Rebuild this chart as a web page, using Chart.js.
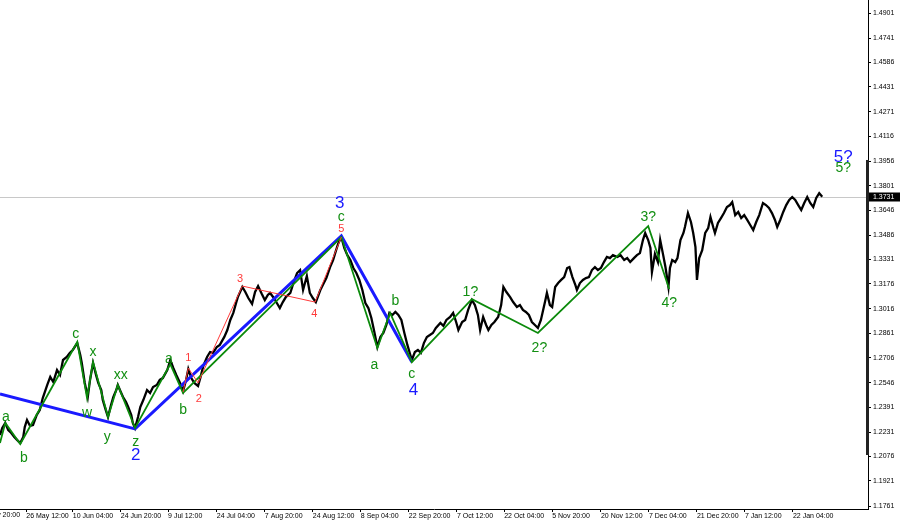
<!DOCTYPE html>
<html>
<head>
<meta charset="utf-8">
<title>GBP/USD H4 wave count</title>
<script src="https://cdn.jsdelivr.net/npm/chart.js@4.4.1/dist/chart.umd.min.js"></script>
<style>
  html, body { margin: 0; padding: 0; background: #fff; }
  #wrap { width: 900px; height: 525px; }
</style>
</head>
<body>
<div id="wrap"><canvas id="chart" width="900" height="525"></canvas></div>
<script>
// price path, one sample every ~4 H4 bars
const priceBars = [
  0, 3, 7, 11, 15, 19, 23, 27, 31, 33,
  36, 40, 44, 49, 53, 57, 63, 67, 71, 76,
  80, 84, 89, 93, 97, 103, 107, 109, 113, 117,
  120, 124, 128, 131, 135, 137, 141, 144, 148, 151,
  155, 157, 161, 164, 168, 171, 175, 177, 180, 184,
  187, 191, 196, 200, 204, 209, 213, 217, 223, 227,
  231, 235, 240, 244, 248, 251, 255, 259, 264, 267,
  271, 276, 280, 284, 289, 293, 299, 303, 307, 311,
  315, 317, 323, 327, 331, 336, 340, 344, 349, 353,
  357, 360, 365, 369, 373, 377, 381, 387, 391, 396,
  400, 404, 409, 413, 417, 421, 427, 431, 435, 440,
  444, 448, 451, 455, 459, 463, 467, 471, 475, 479,
  483, 487, 491, 495, 499, 503, 507, 511, 515, 519,
  523, 527, 531, 535, 539, 543, 547, 549, 553, 557,
  561, 565, 569, 573, 577, 581, 587, 591, 595, 600,
  604, 608, 611, 616, 620, 624, 629, 633, 637, 640,
  644, 648, 651, 655, 659, 664, 668, 671, 675, 680,
  684, 689, 693, 697, 701, 705, 709, 713, 717, 721,
  724, 727, 729, 733, 736, 740, 744, 748, 752, 756,
  759, 763, 767, 769, 773, 777, 781, 785, 789, 793,
  797, 801, 805, 809, 813, 817, 823, 827, 832, 836,
  840, 845, 849, 853, 857, 860, 864, 867, 869, 873,
  877, 880, 884, 887, 891, 893, 896, 900, 903, 907,
  911, 913, 917, 921, 924, 927, 929, 932, 936, 940,
  944, 947, 951, 953, 957, 961, 965, 969, 973, 976,
  980, 984, 988, 992, 996, 1000, 1004, 1008, 1012, 1017,
  1021, 1025, 1029, 1033, 1036, 1040, 1044, 1048, 1052, 1056,
  1060, 1064, 1068, 1072, 1076, 1080, 1084, 1088, 1092, 1096
];
const priceValues = [
  1.2213, 1.2258, 1.2290, 1.2245, 1.2226, 1.2201, 1.2181, 1.2162, 1.2201, 1.2264,
  1.2309, 1.2271, 1.2277, 1.2341, 1.2372, 1.2449, 1.2532, 1.2583, 1.2551, 1.2627,
  1.2596, 1.2691, 1.2710, 1.2736, 1.2755, 1.2799, 1.2723, 1.2672, 1.2545, 1.2455,
  1.2564, 1.2672, 1.2596, 1.2545, 1.2500, 1.2436, 1.2372, 1.2328, 1.2404, 1.2455,
  1.2500, 1.2532, 1.2487, 1.2455, 1.2423, 1.2391, 1.2341, 1.2290, 1.2258, 1.2328,
  1.2391, 1.2436, 1.2500, 1.2481, 1.2519, 1.2532, 1.2564, 1.2576, 1.2627, 1.2691,
  1.2640, 1.2596, 1.2545, 1.2493, 1.2564, 1.2634, 1.2576, 1.2545, 1.2525, 1.2576,
  1.2653, 1.2710, 1.2742, 1.2736, 1.2774, 1.2787, 1.2838, 1.2882, 1.2946, 1.2991,
  1.3060, 1.3092, 1.3156, 1.3124, 1.3086, 1.3048, 1.3124, 1.3162, 1.3111, 1.3073,
  1.3105, 1.3118, 1.3086, 1.3054, 1.3022, 1.3060, 1.3092, 1.3118, 1.3181, 1.3245,
  1.3264, 1.3137, 1.3226, 1.3118, 1.3086, 1.3060, 1.3137, 1.3175, 1.3213, 1.3283,
  1.3328, 1.3391, 1.3435, 1.3474, 1.3404, 1.3359, 1.3328, 1.3277, 1.3245, 1.3201,
  1.3137, 1.3054, 1.3022, 1.2959, 1.2870, 1.2774, 1.2838, 1.2863, 1.2914, 1.2991,
  1.2978, 1.2997, 1.2978, 1.2946, 1.2863, 1.2787, 1.2723, 1.2691, 1.2742, 1.2755,
  1.2736, 1.2799, 1.2838, 1.2850, 1.2863, 1.2895, 1.2927, 1.2908, 1.2946, 1.2965,
  1.2991, 1.2933, 1.2882, 1.2933, 1.2946, 1.3010, 1.3073, 1.3041, 1.2978, 1.2882,
  1.2965, 1.2914, 1.2882, 1.2914, 1.2933, 1.2965, 1.3041, 1.3156, 1.3124, 1.3092,
  1.3060, 1.3029, 1.3041, 1.3010, 1.2997, 1.2978, 1.2933, 1.2914, 1.2895, 1.2946,
  1.3010, 1.3073, 1.3118, 1.3041, 1.3029, 1.3156, 1.3181, 1.3201, 1.3219, 1.3277,
  1.3283, 1.3219, 1.3168, 1.3137, 1.3181, 1.3201, 1.3213, 1.3219, 1.3264, 1.3283,
  1.3264, 1.3277, 1.3315, 1.3347, 1.3340, 1.3359, 1.3347, 1.3359, 1.3328, 1.3340,
  1.3315, 1.3340, 1.3359, 1.3372, 1.3455, 1.3500, 1.3455, 1.3404, 1.3251, 1.3366,
  1.3315, 1.3455, 1.3359, 1.3283, 1.3156, 1.3277, 1.3328, 1.3315, 1.3340, 1.3455,
  1.3500, 1.3538, 1.3627, 1.3570, 1.3500, 1.3410, 1.3201, 1.3340, 1.3391, 1.3500,
  1.3532, 1.3602, 1.3532, 1.3500, 1.3564, 1.3595, 1.3627, 1.3665, 1.3678, 1.3697,
  1.3614, 1.3634, 1.3595, 1.3614, 1.3583, 1.3551, 1.3519, 1.3570, 1.3614, 1.3691,
  1.3678, 1.3659, 1.3627, 1.3583, 1.3538, 1.3583, 1.3634, 1.3678, 1.3710, 1.3729,
  1.3710, 1.3678, 1.3646, 1.3691, 1.3729, 1.3691, 1.3665, 1.3723, 1.3754, 1.3731
];
const lastPrice = 1.3731;

// wave lines
const blueBars = [0, 180, 455, 549];
const bluePrices = [1.2474, 1.2252, 1.3481, 1.2678];
const greenBars = [0, 7, 27, 103, 116, 124, 144, 157, 180, 227, 244, 455, 503, 520, 549, 629, 717, 864, 892];
const greenPrices = [1.2162, 1.2290, 1.2156, 1.2806, 1.2449, 1.2678, 1.2328, 1.2532, 1.2258, 1.2665,
  1.2481, 1.3474, 1.2767, 1.2991, 1.2678, 1.3079, 1.2863, 1.3544, 1.3143];
const redBars = [244, 251, 264, 323, 420, 455];
const redPrices = [1.2487, 1.2640, 1.2545, 1.3162, 1.3060, 1.3474];

// wave labels
const blueLabels = ['2', '3', '4', '5?'];
const blueLabelBars = [181, 453, 551, 1124];
const blueLabelPrices = [1.2086, 1.3691, 1.2500, 1.3984];
const greenLabels = ['a', 'b', 'c', 'w', 'x', 'y', 'xx', 'z', 'a', 'b', 'c', 'a', 'b', 'c', '1?', '2?', '3?', '4?', '5?'];
const greenLabelBars = [8, 32, 101, 116, 124, 143, 161, 181, 225, 244, 455, 499, 527, 549, 627, 719, 864, 892, 1124];
const greenLabelPrices = [1.2328, 1.2067, 1.2857, 1.2353, 1.2742, 1.2201, 1.2596, 1.2169, 1.2697, 1.2372,
  1.3602, 1.2659, 1.3067, 1.2602, 1.3124, 1.2767, 1.3602, 1.3054, 1.3914];
const redLabels = ['1', '2', '3', '4', '5'];
const redLabelBars = [251, 265, 320, 419, 455];
const redLabelPrices = [1.2704, 1.2443, 1.3207, 1.2984, 1.3525];

// axes
const yTickValues = [1.4901, 1.4741, 1.4586, 1.4431, 1.4271, 1.4116, 1.3956, 1.3801, 1.3646, 1.3486,
  1.3331, 1.3176, 1.3016, 1.2861, 1.2706, 1.2546, 1.2391, 1.2231, 1.2076, 1.1921, 1.1761];
const xTickBars = [35, 97, 161, 224, 289, 353, 417, 481, 545, 609, 672, 736, 801, 865, 929, 993, 1057];
const xTickLabels = ['26 May 12:00', '10 Jun 04:00', '24 Jun 20:00', '9 Jul 12:00', '24 Jul 04:00',
  '7 Aug 20:00', '24 Aug 12:00', '8 Sep 04:00', '22 Sep 20:00', '7 Oct 12:00', '22 Oct 04:00',
  '5 Nov 20:00', '20 Nov 12:00', '7 Dec 04:00', '21 Dec 20:00', '7 Jan 12:00', '22 Jan 04:00'];
const cutLabelBar = -29;
const cutLabel = '11 May 20:00';
const scrollTop = 1.3965;
const scrollBottom = 1.2086;

const FONT = '"Liberation Sans", Arial, sans-serif';
const toPoints = (xs, ys) => xs.map((x, i) => ({ x: x, y: ys[i] }));

function drawLabels(ctx, xs, ys, texts, bars, prices, color, size) {
  ctx.fillStyle = color;
  ctx.font = size + 'px ' + FONT;
  ctx.textAlign = 'center';
  ctx.textBaseline = 'middle';
  texts.forEach((t, i) => {
    ctx.fillText(t, xs.getPixelForValue(bars[i]), ys.getPixelForValue(prices[i]));
  });
}

const wavePlugin = {
  id: 'waveMarks',
  beforeDatasetsDraw(chart) {
    const { ctx, chartArea: a, scales: { y } } = chart;
    const py = Math.round(y.getPixelForValue(lastPrice)) + 0.5;
    ctx.save();
    ctx.strokeStyle = '#c8c8c8';
    ctx.lineWidth = 1;
    ctx.beginPath();
    ctx.moveTo(a.left, py);
    ctx.lineTo(a.right, py);
    ctx.stroke();
    ctx.restore();
  },
  afterDatasetsDraw(chart) {
    const { ctx, scales: { x, y } } = chart;
    ctx.save();
    drawLabels(ctx, x, y, greenLabels, greenLabelBars, greenLabelPrices, '#138f13', 14);
    drawLabels(ctx, x, y, redLabels, redLabelBars, redLabelPrices, '#ff3a3a', 11);
    drawLabels(ctx, x, y, blueLabels, blueLabelBars, blueLabelPrices, '#1a1aff', 17);
    ctx.restore();
  },
  afterDraw(chart) {
    const { ctx, chartArea: a, scales: { x, y } } = chart;
    ctx.save();
    // dark strip on the price scale
    const t = y.getPixelForValue(scrollTop), b = y.getPixelForValue(scrollBottom);
    ctx.fillStyle = '#222';
    ctx.fillRect(a.right - 2, t, 3, b - t);
    // current price box
    const py = Math.round(y.getPixelForValue(lastPrice));
    ctx.fillStyle = '#000';
    ctx.fillRect(a.right + 1, py - 4.5, chart.width - a.right - 1, 9);
    ctx.fillStyle = '#fff';
    ctx.font = '7px ' + FONT;
    ctx.textAlign = 'left';
    ctx.textBaseline = 'middle';
    ctx.fillText(lastPrice.toFixed(4), a.right + 5, py);
    // first date label, cut by the left edge
    ctx.fillStyle = '#000';
    ctx.textBaseline = 'top';
    ctx.fillText(cutLabel, x.getPixelForValue(cutLabelBar), a.bottom + 3);
    ctx.restore();
  }
};

new Chart(document.getElementById('chart'), {
  type: 'line',
  data: {
    datasets: [
      { label: 'minor', data: toPoints(redBars, redPrices), borderColor: '#ff3a3a', borderWidth: 1 },
      { label: 'sub', data: toPoints(greenBars, greenPrices), borderColor: '#0b8a0b', borderWidth: 1.8 },
      { label: 'main', data: toPoints(blueBars, bluePrices), borderColor: '#1a1aff', borderWidth: 3 },
      { label: 'GBPUSD H4', data: toPoints(priceBars, priceValues), borderColor: '#000', borderWidth: 2.3 }
    ]
  },
  options: {
    responsive: false,
    animation: false,
    devicePixelRatio: 1,
    layout: { padding: 0 },
    elements: { line: { tension: 0 }, point: { radius: 0, hoverRadius: 0 } },
    plugins: { legend: { display: false }, tooltip: { enabled: false } },
    events: [],
    scales: {
      x: {
        type: 'linear',
        min: 0,
        max: 1157,
        afterBuildTicks: s => { s.ticks = xTickBars.map(v => ({ value: v })); },
        afterFit: s => { s.height = 16; s.paddingLeft = 0; s.paddingRight = 0; },
        ticks: {
          align: 'start', padding: 0, maxRotation: 0, autoSkip: false, color: '#000',
          font: { family: FONT, size: 7 },
          callback: (v, i) => xTickLabels[i]
        },
        grid: { drawOnChartArea: false, tickLength: 3, tickColor: '#000' },
        border: { color: '#000', width: 1 }
      },
      y: {
        position: 'right',
        min: 1.1742,
        max: 1.4984,
        afterBuildTicks: s => { s.ticks = yTickValues.map(v => ({ value: v })); },
        afterFit: s => { s.width = 32; s.paddingTop = 0; s.paddingBottom = 0; },
        ticks: {
          padding: 2, autoSkip: false, color: '#000',
          font: { family: FONT, size: 7 },
          callback: v => v.toFixed(4)
        },
        grid: { drawOnChartArea: false, tickLength: 3, tickColor: '#000' },
        border: { color: '#000', width: 1 }
      }
    }
  },
  plugins: [wavePlugin]
});
</script>
</body>
</html>
